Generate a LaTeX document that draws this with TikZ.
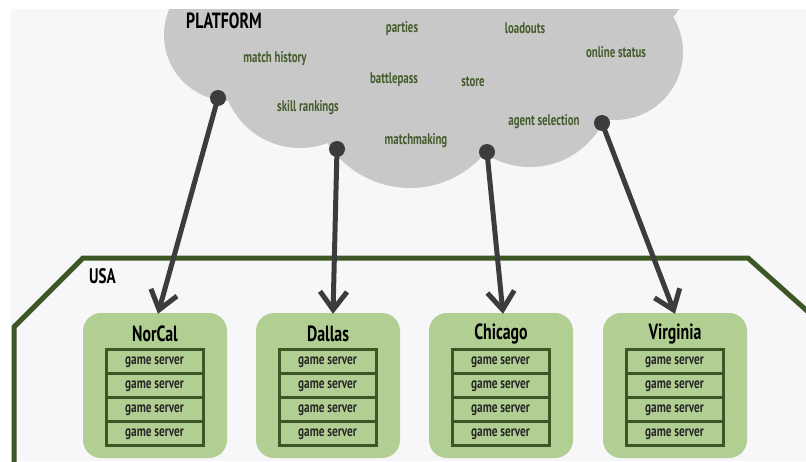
\documentclass[tikz,border=0pt]{standalone}
\usepackage{fontspec}
\setmainfont{PT Sans}[FakeStretch=0.72]
\newfontfamily\condfont{PT Sans}[FakeStretch=0.70]
\newfontfamily\servfont{PT Sans}[FakeStretch=0.75]
\usetikzlibrary{arrows.meta,positioning}
\definecolor{bgpale}{HTML}{F7F7F9}
\definecolor{cloudgray}{HTML}{C8C8C8}
\definecolor{linkdark}{HTML}{3C3C3C}
\definecolor{featgreen}{HTML}{455C2D}
\definecolor{usagreen}{HTML}{3D5626}
\definecolor{regionfill}{HTML}{B2CF93}
\tikzset{
  feature/.style={text=featgreen, font=\condfont\bfseries\fontsize{15.5}{15.5}\selectfont,
                  inner sep=0pt, text height=10.5pt, text depth=3pt},
  region/.style={fill=regionfill, rounded corners=18pt, minimum width=144pt,
                 minimum height=145pt, inner sep=0pt},
  regiontitle/.style={font=\bfseries\fontsize{22}{22}\selectfont, inner sep=0pt},
  server/.style={draw=usagreen, line width=3pt, fill=regionfill, minimum width=97pt,
                 minimum height=24pt, inner sep=0pt, text height=8.5pt, text depth=1.5pt,
                 font=\servfont\bfseries\fontsize{15}{15}\selectfont, text=black!85},
  anchordot/.style={circle, fill=linkdark, minimum size=16pt, inner sep=0pt},
  link/.style={draw=linkdark, line width=5pt,
               -{Straight Barb[length=18pt,width=27pt]}},
}
\begin{document}
\begin{tikzpicture}[x=1pt,y=-1pt]
\useasboundingbox (0,0) rectangle (806,461);
% page background
\fill[white] (0,0) rectangle (806,461);
\fill[bgpale] (11,9) rectangle (806,461);

% platform cloud built from overlapping discs
\begin{scope}
\clip (11,9) rectangle (806,461);
\fill[cloudgray] (230,35) circle[radius=66];
\fill[cloudgray] (300,70) circle[radius=78];
\fill[cloudgray] (410,90) circle[radius=98];
\fill[cloudgray] (530,85) circle[radius=82];
\fill[cloudgray] (615,52) circle[radius=68];
\fill[cloudgray] (430,-10) circle[radius=160];
\fill[cloudgray] (650,-5) circle[radius=32];
\end{scope}

\node[anchor=west, font=\bfseries\fontsize{22}{22}\selectfont, inner sep=0pt] (platform) at (186,21) {PLATFORM};
\node[feature] (parties) at (402,29) {parties};
\node[feature] (loadouts) at (525,30) {loadouts};
\node[feature] (history) at (275,59) {match history};
\node[feature] (online) at (616,54) {online status};
\node[feature] (battlepass) at (394,80) {battlepass};
\node[feature] (store) at (473,83) {store};
\node[feature] (skill) at (308,108) {skill rankings};
\node[feature] (agent) at (544,122) {agent selection};
\node[feature] (mm) at (416,141) {matchmaking};

% country border
\draw[usagreen, line width=5pt, line join=miter]
  (14,470) -- (14,327) -- (83,258) -- (748,258) -- (815,318);
\node[anchor=west, font=\bfseries\fontsize{21}{21}\selectfont, inner sep=0pt] (usa) at (89,276) {USA};

% regions with their server stacks
\foreach \nm/\cx/\ttl in {norcal/155/NorCal, dallas/328/Dallas, chicago/501/Chicago, virginia/675/Virginia}{
  \node[region] (\nm) at (\cx,385.5) {};
  \node[regiontitle] (\nm-title) at (\cx,334) {\ttl};
  \foreach \k/\cy in {1/361,2/385,3/409,4/433}{
    \node[server] (\nm-s\k) at (\cx-0.5,\cy) {game server};
  }
}

% links from platform to regions
\node[anchordot] (dn) at (218,98) {};
\node[anchordot] (dd) at (337,149) {};
\node[anchordot] (dc) at (487,152) {};
\node[anchordot] (dv) at (602,123) {};
\draw[link] (dn.center) -- ([xshift=3pt,yshift=-1pt]norcal.north);
\draw[link] (dd.center) -- ([xshift=5pt,yshift=-1pt]dallas.north);
\draw[link] (dc.center) -- ([xshift=2pt,yshift=-1pt]chicago.north);
\draw[link] (dv.center) -- ([yshift=-1pt]virginia.north);
\end{tikzpicture}
\end{document}
